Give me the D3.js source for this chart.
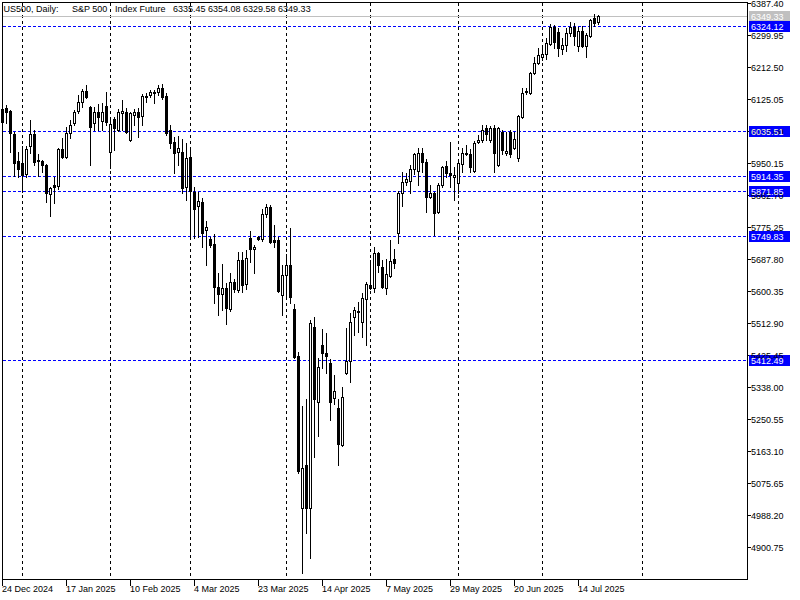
<!DOCTYPE html>
<html><head><meta charset="utf-8">
<script src="https://cdn.jsdelivr.net/npm/d3@7"></script>
<style>body{margin:0;background:#fff}svg{display:block}</style>
</head><body><svg id="c" width="800" height="600"></svg>
<script>
const opens = [6060.9,6099.1,6090.9,6028.2,5954.5,5949.0,5919.0,5995.4,6028.2,5957.2,
5954.5,5943.6,5864.5,5889.0,5886.3,5987.2,5965.4,6030.9,6058.2,6090.9,
6115.4,6145.5,6101.8,6058.2,6088.2,6063.6,6104.5,5979.0,6069.1,6039.1,
6085.4,6088.2,6011.8,6080.0,6088.2,6077.3,6129.1,6134.5,6140.0,6142.7,
6153.6,6131.8,6039.1,6006.4,5979.0,5979.0,5883.6,5965.4,5869.9,5831.7,
5842.6,5766.3,5741.7,5728.1,5610.8,5591.7,5608.0,5550.7,5624.4,5602.6,
5684.4,5618.9,5744.4,5714.4,5747.2,5741.7,5809.9,5829.0,5739.0,5739.0,
5589.0,5643.5,5670.8,5550.7,5422.5,5007.9,5125.2,5007.9,5501.6,5297.1,
5452.6,5430.7,5403.4,5307.9,5280.7,5179.7,5376.2,5408.9,5528.9,5545.3,
5515.3,5578.1,5616.2,5608.0,5703.5,5665.3,5608.0,5640.8,5687.2,5758.1,
5867.2,5897.2,5899.9,5932.7,5927.2,5976.3,5951.8,5856.3,5867.2,5815.4,
5889.0,5940.9,5921.8,5910.8,5894.5,5946.3,5976.3,5973.6,5927.2,6006.3,
6011.8,6044.5,6011.8,6044.5,5943.6,6033.6,5976.3,6033.6,5990.0,5962.7,
6074.5,6145.5,6140.0,6194.6,6221.8,6238.2,6246.4,6273.7,6320.0,6306.4,
6260.0,6270.9,6303.7,6320.0,6268.2,6309.1,6268.2,6295.5,6344.6,6335.45];
const highs = [6107.3,6107.3,6093.6,6033.6,5979.0,5995.4,5995.4,6066.3,6039.1,5973.6,
5957.2,5946.3,5883.6,5910.8,5990.0,6017.2,6047.2,6066.3,6093.6,6134.5,
6150.9,6161.8,6104.5,6101.8,6110.0,6112.7,6142.7,6069.1,6074.5,6096.3,
6120.9,6099.1,6088.2,6096.3,6099.1,6137.3,6140.0,6148.2,6148.2,6161.8,
6164.5,6140.0,6052.7,6020.0,6022.7,6014.5,6003.6,5992.7,5883.6,5869.9,
5853.5,5790.8,5747.2,5755.4,5649.0,5673.5,5621.7,5649.0,5632.6,5706.2,
5706.2,5711.7,5763.5,5725.3,5749.9,5823.5,5837.2,5834.5,5779.9,5747.2,
5670.8,5700.8,5771.7,5564.4,5433.5,5286.1,5305.3,5520.8,5528.9,5417.1,
5496.2,5485.3,5414.3,5370.7,5305.3,5338.0,5498.9,5539.8,5556.2,5569.8,
5594.4,5624.4,5684.4,5719.9,5706.2,5684.4,5687.2,5739.0,5714.4,5872.7,
5924.5,5921.8,5943.6,5976.3,5990.0,5990.0,5959.9,5889.0,5869.9,5894.5,
5940.9,5954.5,6006.3,5938.1,5951.8,5990.0,5998.1,5987.2,6009.1,6025.4,
6052.7,6052.7,6050.0,6052.7,6047.2,6039.1,6033.6,6039.1,6033.6,6080.0,
6153.6,6153.6,6197.3,6238.2,6262.8,6262.8,6290.0,6328.2,6325.5,6317.3,
6290.0,6317.3,6333.7,6331.0,6320.0,6322.8,6303.7,6341.9,6355.5,6354.08];
const lows = [6052.7,6058.2,5979.0,5913.6,5910.8,5869.9,5910.8,5976.3,5943.6,5913.6,
5924.5,5842.6,5804.5,5839.9,5878.1,5962.7,5962.7,6017.2,6052.7,6085.4,
6101.8,6126.4,5943.6,6039.1,6039.1,6039.1,6052.7,5935.4,5984.5,6036.3,
6039.1,6030.9,6009.1,6052.7,6020.0,6052.7,6115.4,6129.1,6112.7,6134.5,
6123.6,6025.4,5990.0,5921.8,5943.6,5867.2,5848.1,5744.4,5744.4,5747.2,
5719.9,5670.8,5719.9,5567.1,5534.4,5548.0,5509.8,5545.3,5597.1,5597.1,
5597.1,5605.3,5679.0,5649.0,5739.0,5736.3,5801.7,5730.8,5719.9,5597.1,
5534.4,5586.2,5567.1,5417.1,5103.4,4830.6,4939.7,4871.5,5147.0,5204.3,
5389.8,5376.2,5248.0,5291.6,5125.2,5177.0,5373.4,5351.6,5479.8,5488.0,
5474.4,5452.6,5605.3,5597.1,5651.7,5608.0,5591.7,5638.1,5662.6,5730.8,
5831.7,5889.0,5867.2,5919.0,5889.0,5924.5,5815.4,5853.5,5752.6,5812.6,
5883.6,5910.8,5883.6,5848.1,5867.2,5924.5,5970.9,5924.5,5924.5,6003.6,
6006.3,6011.8,6006.3,5924.5,5940.9,5973.6,5970.9,5965.4,5987.2,5954.5,
6071.8,6137.3,6137.3,6191.8,6219.1,6230.0,6232.7,6270.9,6262.8,6240.9,
6246.4,6254.6,6295.5,6270.9,6254.6,6265.5,6238.2,6292.8,6322.8,6329.58];
const closes = [6096.3,6088.2,6030.9,5949.0,5932.7,5916.3,5987.2,6028.2,5951.8,5954.5,
5943.6,5867.2,5880.8,5883.6,5987.2,5965.4,6030.9,6052.7,6088.2,6115.4,
6145.5,6129.1,6047.2,6088.2,6074.5,6088.2,6060.9,6055.4,6044.5,6088.2,
6090.9,6033.6,6085.4,6088.2,6074.5,6131.8,6131.8,6142.7,6142.7,6153.6,
6129.1,6030.9,6003.6,5976.3,5990.0,5880.8,5962.7,5872.7,5823.5,5845.4,
5758.1,5774.4,5725.3,5610.8,5591.7,5608.0,5553.5,5624.4,5605.3,5684.4,
5616.2,5689.9,5714.4,5719.9,5741.7,5809.9,5829.0,5733.5,5733.5,5599.9,
5643.5,5670.8,5583.5,5419.8,5108.8,5117.0,5007.9,5512.6,5305.3,5392.5,
5430.7,5422.5,5297.1,5327.1,5182.5,5310.7,5408.9,5515.3,5548.0,5542.6,
5580.8,5618.9,5608.0,5703.5,5670.8,5610.8,5646.2,5681.7,5676.3,5867.2,
5897.2,5905.4,5932.7,5973.6,5976.3,5951.8,5856.3,5867.2,5812.6,5889.0,
5938.1,5921.8,5916.3,5916.3,5949.0,5976.3,5973.6,5938.1,6003.6,6011.8,
6039.1,6028.2,6044.5,5976.3,6044.5,5984.5,5981.8,5973.6,6014.5,6077.3,
6140.0,6142.7,6194.6,6221.8,6243.7,6246.4,6276.4,6320.0,6279.1,6262.8,
6270.9,6303.7,6320.0,6295.5,6309.1,6268.2,6298.2,6339.1,6331.0,6349.33];

const dateLabels = ["24 Dec 2024","17 Jan 2025","10 Feb 2025","4 Mar 2025","23 Mar 2025",
  "14 Apr 2025","7 May 2025","29 May 2025","20 Jun 2025","14 Jul 2025"];
const dateLabelBars = [0,16,32,48,64,80,96,112,128,144];
const monthGridBars = [5,27,47,71,92,114,135,160];
const priceTicks = [6387.40,6299.95,6212.50,6125.05,6037.60,5950.15,5862.70,5775.25,5687.80,
  5600.35,5512.90,5425.45,5338.00,5250.55,5163.10,5075.65,4988.20,4900.75];
const levels = [6324.12,6035.51,5914.35,5871.85,5749.83,5412.49];
const lastPrice = 6349.33;
const titleParts = ["US500, Daily:", "S&P 500", "Index Future", "6335.45 6354.08 6329.58 6349.33"];

const svg = d3.select("#c");
const W = 800, H = 600;
const pLeft = 2.5, pRight = 747.5, pTop = 2.5, pBottom = 579.5;
const FONT = "'Liberation Sans', Arial, sans-serif";

svg.append("rect").attr("width", W).attr("height", H).attr("fill", "#fff");

const y = d3.scaleLinear().domain([4814.8, 6387.4]).range([579, 2.5]);
const x = d3.scaleLinear().domain([0, 1]).range([2.5, 6.5]);
const sy = v => Math.round(y(v)) + 0.5;

// title, laid out in segments like the terminal's header
const titleX = [3.5, 72, 115, 173];
svg.selectAll("text.title").data(titleParts).join("text")
  .attr("x", (d, i) => titleX[i]).attr("y", 11.5)
  .attr("font-family", FONT).attr("font-size", 9).attr("fill", "#000")
  .style("white-space", "pre").text(d => d);

const g = svg.append("g").attr("shape-rendering", "crispEdges");

g.selectAll("line.vg").data(monthGridBars).join("line")
  .attr("x1", d => x(d)).attr("x2", d => x(d))
  .attr("y1", pTop).attr("y2", pBottom)
  .attr("stroke", "#000").attr("stroke-width", 1).attr("stroke-dasharray", "3,3");

g.append("line").attr("x1", pLeft).attr("x2", pRight)
  .attr("y1", sy(lastPrice)).attr("y2", sy(lastPrice))
  .attr("stroke", "#c0c0c0").attr("stroke-width", 1);

g.selectAll("line.lv").data(levels).join("line")
  .attr("x1", pLeft).attr("x2", pRight)
  .attr("y1", d => sy(d)).attr("y2", d => sy(d))
  .attr("stroke", "#0000ff").attr("stroke-width", 1).attr("stroke-dasharray", "3,2");

const idx = d3.range(opens.length);
g.selectAll("line.wick").data(idx).join("line")
  .attr("x1", i => x(i)).attr("x2", i => x(i))
  .attr("y1", i => Math.round(y(highs[i]))).attr("y2", i => Math.round(y(lows[i])) + 1)
  .attr("stroke", "#000").attr("stroke-width", 1);
g.selectAll("path.body").data(idx).join("path")
  .attr("d", i => {
    const t = sy(Math.max(opens[i], closes[i]));
    const b = sy(Math.min(opens[i], closes[i]));
    const cx = x(i);
    return `M${cx - 1},${t}H${cx + 1}V${b}H${cx - 1}Z`;
  })
  .attr("fill", i => closes[i] >= opens[i] ? "#fff" : "#000")
  .attr("stroke", "#000").attr("stroke-width", 1);

g.append("path").attr("d", `M${pLeft},${pTop}H${pRight}V${pBottom}H${pLeft}Z`)
  .attr("fill", "none").attr("stroke", "#000").attr("stroke-width", 1);

g.selectAll("line.yt").data(priceTicks).join("line")
  .attr("x1", pRight).attr("x2", pRight + 3)
  .attr("y1", d => sy(d)).attr("y2", d => sy(d))
  .attr("stroke", "#000");
svg.selectAll("text.yl").data(priceTicks).join("text")
  .attr("x", 751).attr("y", d => sy(d) + 3.3)
  .attr("font-family", FONT).attr("font-size", 9).attr("fill", "#000")
  .text(d => d.toFixed(2));

g.selectAll("line.xt").data(dateLabelBars).join("line")
  .attr("x1", d => x(d)).attr("x2", d => x(d))
  .attr("y1", pBottom).attr("y2", pBottom + 6)
  .attr("stroke", "#000");
svg.selectAll("text.xl").data(dateLabels).join("text")
  .attr("x", (d, i) => x(dateLabelBars[i]) - 0.5).attr("y", 591.5)
  .attr("font-family", FONT).attr("font-size", 9).attr("fill", "#000")
  .text(d => d);

function box(v, bg) {
  const cy = Math.round(y(v));
  g.append("rect").attr("x", 749).attr("y", cy - 5).attr("width", 41).attr("height", 11)
    .attr("fill", bg);
  svg.append("text").attr("x", 751).attr("y", cy + 3.8)
    .attr("font-family", FONT).attr("font-size", 9).attr("fill", "#fff")
    .text(v.toFixed(2));
}
box(lastPrice, "#c0c0c0");
levels.forEach(v => box(v, "#0000ff"));
</script></body></html>
